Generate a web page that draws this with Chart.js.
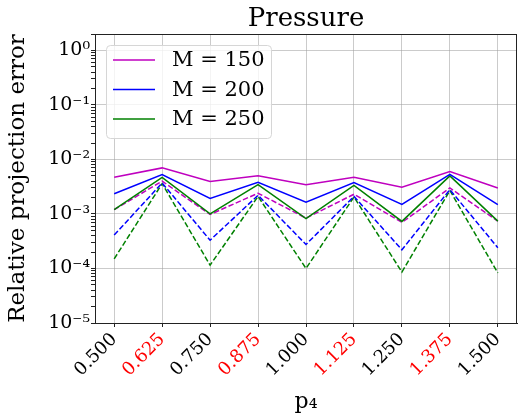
<!DOCTYPE html>
<html>
<head>
<meta charset="utf-8">
<script src="https://cdn.jsdelivr.net/npm/chart.js@4.4.0/dist/chart.umd.min.js"></script>
<style>
  html, body { margin: 0; padding: 0; background: #fff; }
  #wrap { width: 518px; height: 417px; }
</style>
</head>
<body>
<div id="wrap"><canvas id="pressureChart" width="518" height="417"></canvas></div>
<script>
// p4 values on the x axis
const pValues = [0.5, 0.625, 0.75, 0.875, 1.0, 1.125, 1.25, 1.375, 1.5];
const redTicks = [0.625, 0.875, 1.125, 1.375];

// solid lines
const m150Solid = [4.7e-3, 7.0e-3, 3.95e-3, 5.0e-3, 3.45e-3, 4.7e-3, 3.1e-3, 6.0e-3, 3.0e-3];
const m200Solid = [2.35e-3, 5.3e-3, 1.93e-3, 3.8e-3, 1.65e-3, 3.75e-3, 1.5e-3, 5.3e-3, 1.48e-3];
const m250Solid = [1.2e-3, 4.7e-3, 1.0e-3, 3.45e-3, 8.2e-4, 3.35e-3, 7.3e-4, 5.0e-3, 7.4e-4];

// dashed lines
const m150Dashed = [1.2e-3, 4.0e-3, 9.8e-4, 2.4e-3, 8.4e-4, 2.3e-3, 7.0e-4, 3.0e-3, 7.4e-4];
const m200Dashed = [4.1e-4, 3.7e-3, 3.3e-4, 2.2e-3, 2.75e-4, 2.1e-3, 2.2e-4, 2.8e-3, 2.4e-4];
const m250Dashed = [1.5e-4, 3.6e-3, 1.15e-4, 2.1e-3, 1.0e-4, 2.05e-3, 8.6e-5, 2.7e-3, 8.3e-5];

const supers = { '-': '⁻', '0': '⁰', '1': '¹', '2': '²', '3': '³', '4': '⁴', '5': '⁵' };
const serif = "'DejaVu Serif', serif";
const chartTitle = 'Pressure';

const toPoints = arr => arr.map((v, i) => ({ x: pValues[i], y: v }));
const isDecade = v => Math.abs(Math.log10(v) - Math.round(Math.log10(v))) < 1e-6;

function series(label, color, values, dashed) {
    return {
        label: label,
        data: toPoints(values),
        borderColor: color,
        backgroundColor: color,
        borderWidth: 1.5,
        borderDash: dashed ? [5.5, 2.4] : [],
        pointRadius: 0,
        tension: 0,
        isLegend: !dashed
    };
}

// title over the axes, box around plot, legend inside the axes
const framePlugin = {
    id: 'frame',
    afterDraw(chart) {
        const { ctx, chartArea: a } = chart;
        ctx.save();
        ctx.strokeStyle = '#222';
        ctx.lineWidth = 1;
        ctx.strokeRect(a.left + 0.5, a.top + 0.5, a.right - a.left - 1, a.bottom - a.top);

        // title centred on the plot area
        ctx.fillStyle = '#000';
        ctx.font = '26px ' + serif;
        ctx.textAlign = 'center';
        ctx.textBaseline = 'alphabetic';
        ctx.fillText(chartTitle, (a.left + a.right) / 2, a.top - 8);
        ctx.textAlign = 'left';

        // legend
        const items = chart.data.datasets.filter(d => d.isLegend);
        const x0 = a.left + 11, y0 = a.top + 11, w = 165, h = 93;
        ctx.beginPath();
        ctx.roundRect(x0 + 0.5, y0 + 0.5, w, h, 4);
        ctx.fillStyle = 'rgba(255,255,255,0.8)';
        ctx.fill();
        ctx.strokeStyle = '#d6d6d6';
        ctx.stroke();
        ctx.font = '21px ' + serif;
        ctx.textBaseline = 'middle';
        items.forEach((d, i) => {
            const y = y0 + 15 + i * 29.5;
            ctx.beginPath();
            ctx.moveTo(x0 + 7, y);
            ctx.lineTo(x0 + 49, y);
            ctx.strokeStyle = d.borderColor;
            ctx.lineWidth = 1.5;
            ctx.stroke();
            ctx.fillStyle = '#000';
            ctx.fillText(d.label, x0 + 66, y + 1);
        });
        ctx.restore();
    }
};

new Chart(document.getElementById('pressureChart').getContext('2d'), {
    type: 'line',
    data: {
        datasets: [
            series('M = 150', '#bf00bf', m150Solid, false),
            series('M = 200', '#0000ff', m200Solid, false),
            series('M = 250', '#008000', m250Solid, false),
            series('M = 150 (dashed)', '#bf00bf', m150Dashed, true),
            series('M = 200 (dashed)', '#0000ff', m200Dashed, true),
            series('M = 250 (dashed)', '#008000', m250Dashed, true)
        ]
    },
    options: {
        responsive: false,
        animation: false,
        layout: { padding: { left: 0, right: 1, top: 34, bottom: 0 } },
        plugins: {
            legend: { display: false },
            tooltip: { enabled: false },
            title: { display: false }
        },
        scales: {
            x: {
                type: 'linear',
                min: 0.45,
                max: 1.55,
                afterBuildTicks: s => { s.ticks = pValues.map(v => ({ value: v })); },
                afterFit: s => { s.height = 94; },
                grid: { color: 'rgba(160,160,160,0.55)', tickColor: '#222', tickLength: 4 },
                border: { color: '#222' },
                ticks: {
                    autoSkip: false,
                    minRotation: 45,
                    maxRotation: 45,
                    padding: 2,
                    font: { family: serif, size: 18 },
                    color: c => redTicks.includes(c.tick.value) ? '#ff0000' : '#000',
                    callback: v => Number(v).toFixed(3)
                },
                title: {
                    display: true,
                    text: 'p₄',
                    color: '#000',
                    font: { family: serif, size: 22 },
                    padding: { top: 0, bottom: 2 }
                }
            },
            y: {
                type: 'logarithmic',
                min: 1e-5,
                max: 2,
                afterBuildTicks: s => {
                    const t = [];
                    for (let e = -5; e <= 0; e++) {
                        for (let m = 1; m <= 9; m++) {
                            const v = m * Math.pow(10, e);
                            if (v <= 2.0001) t.push({ value: v });
                        }
                    }
                    s.ticks = t;
                },
                afterFit: s => { s.width = 95; },
                grid: {
                    color: c => c.tick && isDecade(c.tick.value) ? 'rgba(160,160,160,0.55)' : 'rgba(0,0,0,0)',
                    tickColor: '#222',
                    tickLength: 4
                },
                border: { color: '#222' },
                ticks: {
                    autoSkip: false,
                    padding: 1,
                    color: '#000',
                    font: { family: serif, size: 19 },
                    callback: v => {
                        if (!isDecade(v)) return '';
                        const e = String(Math.round(Math.log10(v)));
                        return '10' + e.split('').map(ch => supers[ch]).join('');
                    }
                },
                title: {
                    display: true,
                    text: 'Relative projection error',
                    color: '#000',
                    font: { family: serif, size: 23 },
                    padding: { top: 4, bottom: 2 }
                }
            }
        }
    },
    plugins: [framePlugin]
});
</script>
</body>
</html>
